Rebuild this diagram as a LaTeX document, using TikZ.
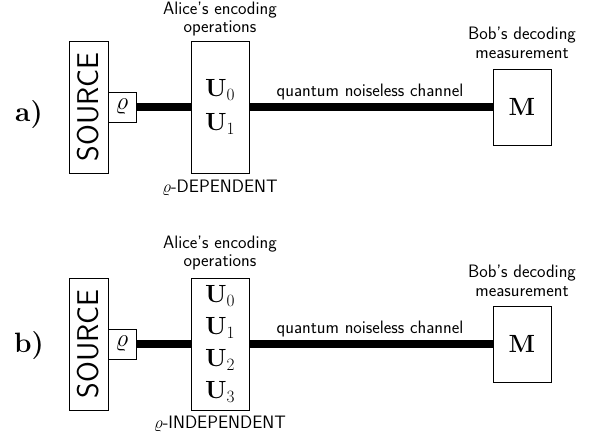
\documentclass[tikz,border=0pt]{standalone}
\usepackage{amsmath}
\begin{document}
\begin{tikzpicture}[x=1pt,y=-1pt,
  box/.style={draw, line width=0.9pt, inner sep=0pt},
  lbl/.style={font=\sffamily\fontsize{18}{18.5}\selectfont, align=center, inner sep=0pt},
  srclbl/.style={rotate=90, inner sep=0pt, font=\sffamily\fontsize{30}{30}\selectfont},
  wire/.style={line width=8pt},
  ops/.style={font=\fontsize{26}{34}\selectfont, align=center},
  part/.style={font=\bfseries\fontsize{28}{30}\selectfont, anchor=base, inner sep=0pt},
  rhofont/.style={font=\fontsize{28}{28}\selectfont},
  mfont/.style={font=\fontsize{32}{32}\selectfont}
]
\useasboundingbox (0,0) rectangle (610,442);

% ---------- a) ----------
\node[part] (pa) at (29,121) {a)};
\node[box, minimum width=39pt, minimum height=132pt] (srcA) at (88.5,107) {};
\node[srclbl] (srcAt) at (srcA.center) {SOURCE};
\node[box, rhofont, minimum width=28pt, minimum height=30pt] (rhoA) at (122,107) {$\varrho$};
\node[box, ops, minimum width=58pt, minimum height=132pt] (uA) at (220,107) {$\mathbf{U}_0$\\$\mathbf{U}_1$};
\node[box, mfont, minimum width=58pt, minimum height=76pt] (mA) at (522,107) {$\mathbf{M}$};
\draw[wire] (rhoA.east) -- (uA.west);
\draw[wire] (uA.east) -- (mA.west);
\node[lbl] (chA) at (370,92) {quantum noiseless channel};
\node[lbl] (aliceA) at (220,19) {Alice's encoding\\operations};
\node[lbl] (depA) at (220,188) {$\varrho$-DEPENDENT};
\node[lbl] (bobA) at (522,43) {Bob's decoding\\measurement};

% ---------- b) ----------
\node[part] (pb) at (29,352) {b)};
\node[box, minimum width=39pt, minimum height=132pt] (srcB) at (88.5,344) {};
\node[srclbl] (srcBt) at (srcB.center) {SOURCE};
\node[box, rhofont, minimum width=28pt, minimum height=30pt] (rhoB) at (122,344) {$\varrho$};
\node[box, ops, font=\fontsize{26}{32}\selectfont, minimum width=58pt, minimum height=132pt] (uB) at (220,344) {$\mathbf{U}_0$\\$\mathbf{U}_1$\\$\mathbf{U}_2$\\$\mathbf{U}_3$};
\node[box, mfont, minimum width=58pt, minimum height=76pt] (mB) at (522,344) {$\mathbf{M}$};
\draw[wire] (rhoB.east) -- (uB.west);
\draw[wire] (uB.east) -- (mB.west);
\node[lbl] (chB) at (370,329) {quantum noiseless channel};
\node[lbl] (aliceB) at (220,253) {Alice's encoding\\operations};
\node[lbl] (depB) at (220,424) {$\varrho$-INDEPENDENT};
\node[lbl] (bobB) at (522,281) {Bob's decoding\\measurement};
\end{tikzpicture}
\end{document}
